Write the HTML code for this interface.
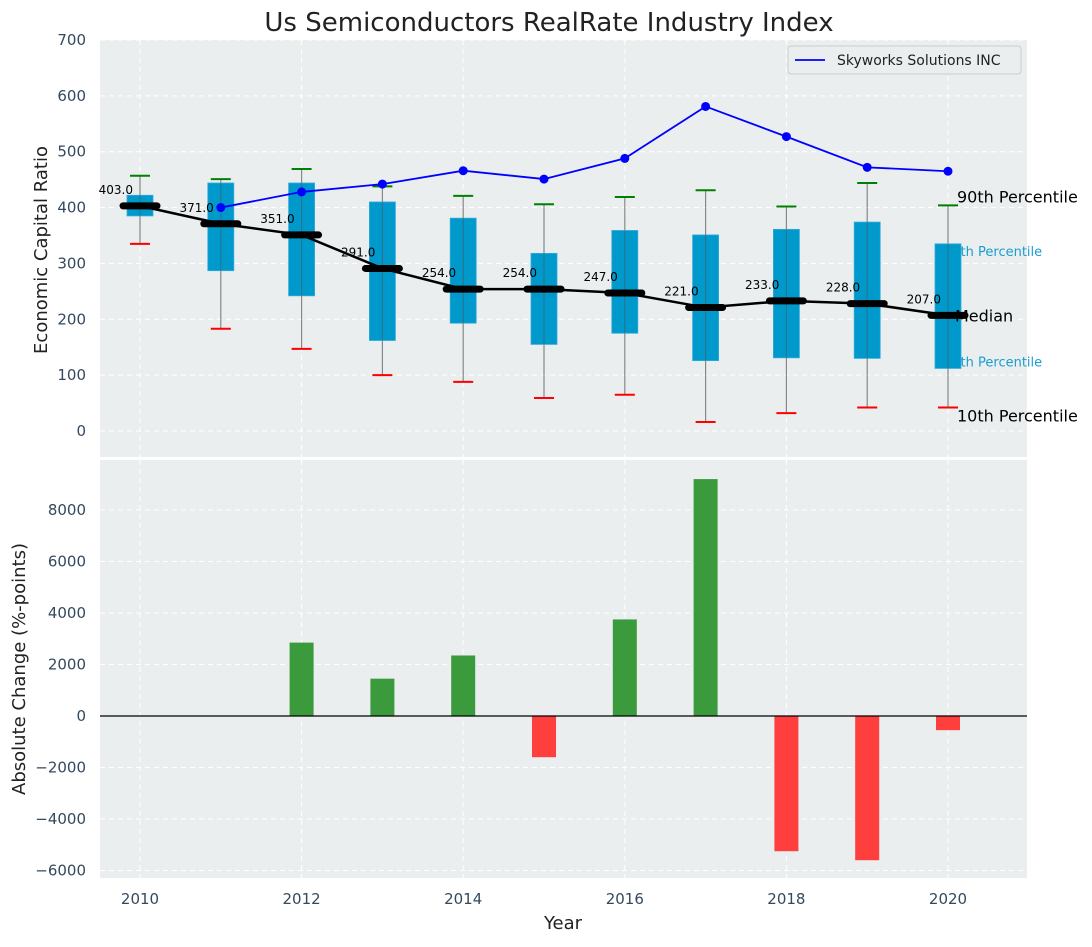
<!DOCTYPE html>
<html><head><meta charset="utf-8"><style>
body{margin:0;background:#fff;font-family:"Liberation Sans","DejaVu Sans",sans-serif}
svg text{font-family:"DejaVu Sans","Liberation Sans",sans-serif}
</style></head><body>
<svg id="chart" width="1092" height="942" xmlns="http://www.w3.org/2000/svg"></svg>
<script>
const years=[2010,2011,2012,2013,2014,2015,2016,2017,2018,2019,2020];
const p10=[335,183,147,100,88,59,65,16,32,42,42];
const p25=[385,287,242,162,193,155,175,126,131,130,112];
const median=[403,371,351,291,254,254,247,221,233,228,207];
const p75=[422,444,444,410,381,318,359,351,361,374,335];
const p90=[457,451,469,438,421,406,419,431,402,444,404];
const skyYears=[2011,2012,2013,2014,2015,2016,2017,2018,2019,2020];
const skyVals=[400,428,442,466,451,488,581,527,472,465];
const changes=[0,0,2850,1450,2350,-1600,3750,9200,-5250,-5600,-550];
const topTicks=[0,100,200,300,400,500,600,700];
const botTicks=[-6000,-4000,-2000,0,2000,4000,6000,8000];
const xTicks=[2010,2012,2014,2016,2018,2020];

const NS="http://www.w3.org/2000/svg";
const svg=document.getElementById('chart');
function el(tag,attrs,parent){const e=document.createElementNS(NS,tag);for(const k in attrs)e.setAttribute(k,attrs[k]);(parent||svg).appendChild(e);return e;}
function txt(s,attrs,parent){const e=el('text',attrs,parent);e.textContent=s;return e;}
const L=100,R=1027;
const X=v=>140+(v-2010)*80.8;
const Y1=v=>431-v*0.5586;
const Y2=v=>716-v*0.02575;

let e=el('rect',{x:L,y:40,width:R-L,height:417,fill:'#eaeeef'});

e=el('rect',{x:L,y:460,width:R-L,height:418,fill:'#eaeeef'});


xTicks.forEach(t=>{
  el('line',{x1:X(t),x2:X(t),y1:40,y2:457,stroke:'#fff','stroke-dasharray':'5,4','stroke-width':1});
  el('line',{x1:X(t),x2:X(t),y1:460,y2:878,stroke:'#fff','stroke-dasharray':'5,4','stroke-width':1});
  e=txt(t,{x:X(t),y:904,'text-anchor':'middle','font-size':15,fill:'#34495e'});
  
});
topTicks.forEach(t=>{
  el('line',{x1:L,x2:R,y1:Y1(t),y2:Y1(t),stroke:'#fff','stroke-dasharray':'5,4'});
  e=txt(t,{x:86,y:Y1(t)+5,'text-anchor':'end','font-size':15,fill:'#34495e'});
  
});
botTicks.forEach(t=>{
  el('line',{x1:L,x2:R,y1:Y2(t),y2:Y2(t),stroke:'#fff','stroke-dasharray':'5,4'});
  e=txt(t<0?'\u2212'+(-t):t,{x:86,y:Y2(t)+5,'text-anchor':'end','font-size':15,fill:'#34495e'});
  
});

const last=years.length-1;
e=txt('90th Percentile',{x:957,y:Y1(p90[last])-3,'font-size':16,fill:'#000'});

e=txt('75th Percentile',{x:944,y:Y1(p75[last])+12,'font-size':13,fill:'#1a9ed0'});

e=txt('25th Percentile',{x:944,y:Y1(p25[last])-2,'font-size':13,fill:'#1a9ed0'});


years.forEach((yr,i)=>{
  const cx=X(yr);
  e=el('line',{x1:cx,x2:cx,y1:Y1(p90[i]),y2:Y1(p10[i]),stroke:'#888','stroke-width':1.2});
  
  e=el('rect',{x:cx-13,y:Y1(p75[i]),width:26,height:Y1(p25[i])-Y1(p75[i]),fill:'#0099cc',stroke:'#33aadd','stroke-width':0.8});
  
  el('line',{x1:cx,x2:cx,y1:Y1(p75[i]),y2:Y1(p25[i]),stroke:'#555','stroke-width':1,opacity:0.6});
  e=el('line',{x1:cx-10,x2:cx+10,y1:Y1(p90[i]),y2:Y1(p90[i]),stroke:'green','stroke-width':2});
  
  e=el('line',{x1:cx-10,x2:cx+10,y1:Y1(p10[i]),y2:Y1(p10[i]),stroke:'red','stroke-width':2});
  
});
e=el('polyline',{points:years.map((y,i)=>X(y)+','+Y1(median[i])).join(' '),fill:'none',stroke:'#000','stroke-width':2.5});

years.forEach((yr,i)=>{
  e=el('line',{x1:X(yr)-17,x2:X(yr)+17,y1:Y1(median[i]),y2:Y1(median[i]),stroke:'#000','stroke-width':7,'stroke-linecap':'round'});
  
  e=txt(median[i].toFixed(1),{x:X(yr)-7,y:Y1(median[i])-12,'text-anchor':'end','font-size':12,fill:'#000'});
  
});
e=el('polyline',{points:skyYears.map((y,i)=>X(y)+','+Y1(skyVals[i])).join(' '),fill:'none',stroke:'blue','stroke-width':1.8});

skyYears.forEach((yr,i)=>{
  e=el('circle',{cx:X(yr),cy:Y1(skyVals[i]),r:4.5,fill:'blue'});
  
});
e=txt('Median',{x:955,y:Y1(median[last])+6,'font-size':16,fill:'#000'});

e=txt('10th Percentile',{x:957,y:Y1(p10[last])+14,'font-size':16,fill:'#000'});


const lg=el('g',{});

el('rect',{x:788,y:46,width:233,height:28,rx:3,fill:'#eaeeef',stroke:'#ccc'},lg);
el('line',{x1:795,x2:825,y1:60,y2:60,stroke:'blue','stroke-width':1.8},lg);
e=txt('Skyworks Solutions INC',{x:837,y:65,'font-size':14,fill:'#222'},lg);


years.forEach((yr,i)=>{
  const v=changes[i];if(v===0)return;
  const y0=Y2(Math.max(v,0)),h=Math.abs(Y2(v)-Y2(0));
  e=el('rect',{x:X(yr)-12,y:y0,width:24,height:h,fill:v>0?'#3a9a3c':'#ff3e3e'});
  
});
el('line',{x1:L,x2:R,y1:Y2(0),y2:Y2(0),stroke:'#000','stroke-width':1.2});

e=txt('Us Semiconductors RealRate Industry Index',{x:549,y:31,'text-anchor':'middle','font-size':26,fill:'#222'});

e=txt('Economic Capital Ratio',{x:0,y:0,'text-anchor':'middle','font-size':18,fill:'#222',transform:'translate(47,250) rotate(-90)'});

e=txt('Absolute Change (%-points)',{x:0,y:0,'text-anchor':'middle','font-size':18,fill:'#222',transform:'translate(25,669) rotate(-90)'});

e=txt('Year',{x:563,y:929,'text-anchor':'middle','font-size':18,fill:'#222'});

</script>
</body></html>
